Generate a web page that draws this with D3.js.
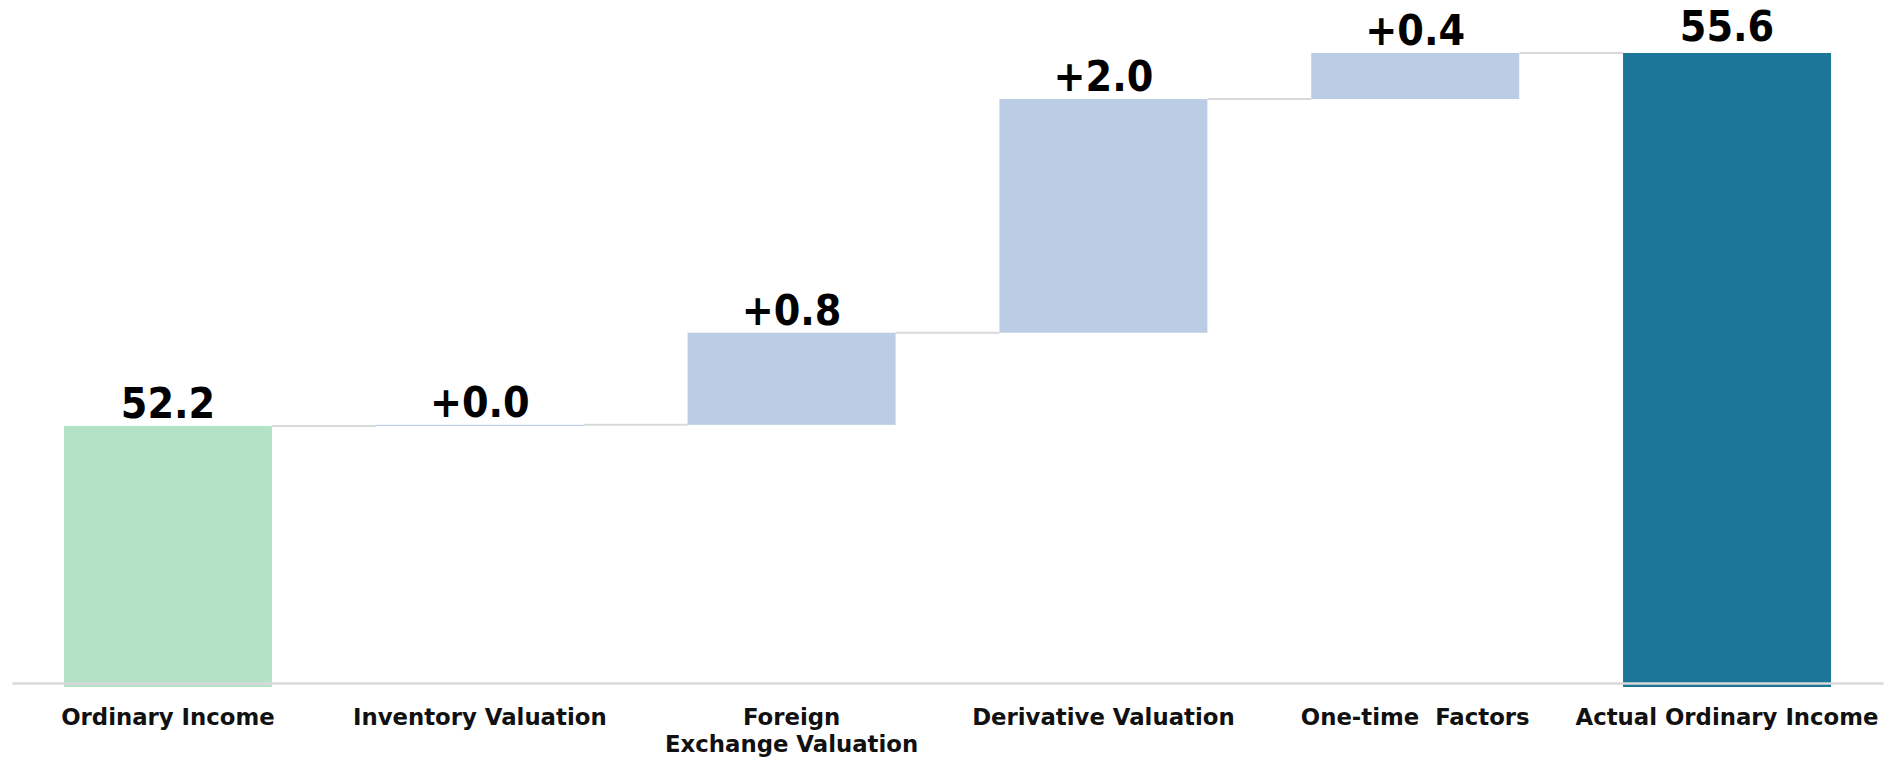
<!DOCTYPE html>
<html>
<head>
<meta charset="utf-8">
<script src="https://cdn.jsdelivr.net/npm/d3@7"></script>
<style>
  html, body { margin: 0; padding: 0; background: #fff; }
  svg { display: block; }
  .cat { font-family: "DejaVu Sans", sans-serif; font-weight: bold; font-size: 22.8px; fill: #111; white-space: pre; }
  .val { font-family: "DejaVu Sans Condensed", "DejaVu Sans", sans-serif; font-stretch: condensed; font-weight: bold; font-size: 42.5px; fill: #000; }
</style>
</head>
<body>
<svg id="chart" width="1888" height="757"></svg>
<script>
// ---- data ----
const categories = ["Ordinary Income", "Inventory Valuation", "Foreign\nExchange Valuation", "Derivative Valuation", "One-time  Factors", "Actual Ordinary Income"];
const startValue = 52.2;
const deltas = [0.01, 0.84, 2.13, 0.42];
const endValue = 55.6;
const valueLabels = ["52.2", "+0.0", "+0.8", "+2.0", "+0.4", "55.6"];
const barKinds = ["start", "delta", "delta", "delta", "delta", "end"];
const axisBase = 49.82;

const colors = { start: "#b3e2c7", delta: "#bacde5", end: "#1c7699" };

// ---- build waterfall rows ----
const rows = [];
let cum = startValue;
rows.push({ cat: categories[0], y0: axisBase, y1: startValue, kind: barKinds[0], label: valueLabels[0] });
deltas.forEach((d, i) => {
  rows.push({ cat: categories[i + 1], y0: cum, y1: cum + d, kind: barKinds[i + 1], label: valueLabels[i + 1] });
  cum += d;
});
rows.push({ cat: categories[5], y0: axisBase, y1: endValue, kind: barKinds[5], label: valueLabels[5] });

const svg = d3.select("#chart");

const x = d3.scaleBand().domain(categories).range([12, 1883]).paddingInner(0.333).paddingOuter(0.1667);
const y = d3.scaleLinear().domain([axisBase, endValue]).range([687, 53]);

// bars
svg.append("g").selectAll("rect").data(rows).join("rect")
  .attr("x", d => x(d.cat))
  .attr("width", x.bandwidth())
  .attr("y", d => y(Math.max(d.y0, d.y1)))
  .attr("height", d => Math.max(1, Math.abs(y(d.y0) - y(d.y1))))
  .attr("fill", d => colors[d.kind]);

// connectors
const conn = [];
for (let i = 0; i < rows.length - 1; i++) {
  conn.push({ a: rows[i], b: rows[i + 1], v: rows[i].y1 });
}
svg.append("g").selectAll("line").data(conn).join("line")
  .attr("x1", d => x(d.a.cat) + x.bandwidth())
  .attr("x2", d => x(d.b.cat))
  .attr("y1", d => y(d.v))
  .attr("y2", d => y(d.v))
  .attr("stroke", "#d9d9d9")
  .attr("stroke-width", 2);

// axis line
const xAxis = d3.axisBottom(x).tickSize(0).tickFormat("");
const gAxis = svg.append("g").attr("transform", `translate(0,${y(axisBase) - 4})`).call(xAxis);
gAxis.select(".domain").attr("stroke", "#d9d9d9").attr("stroke-width", 2.5);

// value labels
svg.append("g").selectAll("text").data(rows).join("text")
  .attr("class", "val")
  .attr("text-anchor", "middle")
  .attr("x", d => x(d.cat) + x.bandwidth() / 2)
  .attr("y", (d, i) => y(Math.max(d.y0, d.y1)) - (i === rows.length - 1 ? 12 : 8))
  .text(d => d.label);

// category labels
const catG = svg.append("g").selectAll("text").data(categories).join("text")
  .attr("class", "cat")
  .attr("text-anchor", "middle")
  .attr("x", d => x(d) + x.bandwidth() / 2)
  .attr("y", 725);
catG.each(function (d) {
  const lines = d.split("\n");
  const t = d3.select(this);
  lines.forEach((ln, j) => {
    t.append("tspan").attr("x", x(d) + x.bandwidth() / 2).attr("dy", j === 0 ? 0 : 27).text(ln);
  });
});
</script>
</body>
</html>
